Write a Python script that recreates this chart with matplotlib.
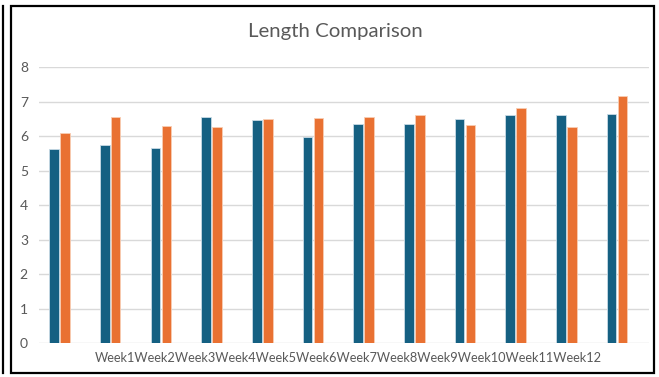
import numpy as np
import matplotlib.pyplot as plt
from matplotlib.patches import Rectangle
from matplotlib.lines import Line2D

plt.rcParams['font.family'] = ['Lato', 'DejaVu Sans']

weeks = ['Week1', 'Week2', 'Week3', 'Week4', 'Week5', 'Week6',
         'Week7', 'Week8', 'Week9', 'Week10', 'Week11', 'Week12']
series_a = [5.63, 5.76, 5.67, 6.55, 6.46, 5.99, 6.35, 6.35, 6.50, 6.61, 6.61, 6.65]
series_b = [6.09, 6.57, 6.29, 6.26, 6.49, 6.52, 6.57, 6.61, 6.32, 6.82, 6.27, 7.17]

W, H = 659, 377
fig = plt.figure(figsize=(W / 100, H / 100), dpi=100)
ax = fig.add_axes([39 / W, 1 - 343.3 / H, 610 / W, 276 / H])

x = np.arange(len(weeks))
bw = 0.19
ax.bar(x - 0.108, series_a, bw, color='#156082', edgecolor='#c9dbe6', linewidth=0.6, zorder=3)
ax.bar(x + 0.108, series_b, bw, color='#E97132', edgecolor='#f8cdb3', linewidth=0.6, zorder=3)

ax.set_xlim(-0.404, 11.63)
ax.set_ylim(0, 8)
ax.set_yticks(range(0, 9))
ax.yaxis.grid(True, color='#d9d9d9', linewidth=1.0, zorder=0)
ax.set_xticks([])
for s in ax.spines.values():
    s.set_visible(False)
ax.tick_params(axis='y', length=0, labelsize=10, labelcolor='#595959', pad=8)

# category labels run together under the axis
fig.text(348 / W, 1 - 358 / H, ''.join(weeks), ha='center', va='center',
         fontsize=9.2, color='#595959')

fig.text(335 / W, 1 - 32 / H, 'Length Comparison', ha='center', va='center',
         fontsize=14.7, color='#595959')

# outer frames
fig.patches.append(Rectangle((11 / W, 1 - 373 / H), 643 / W, 367 / H,
                             transform=fig.transFigure, fill=False,
                             edgecolor='black', linewidth=1.6))
fig.lines.append(Line2D([3 / W, 3 / W], [1 - 373 / H, 1 - 6 / H],
                        transform=fig.transFigure, color='black', linewidth=1.6))

fig.savefig('out.png', dpi=100)
